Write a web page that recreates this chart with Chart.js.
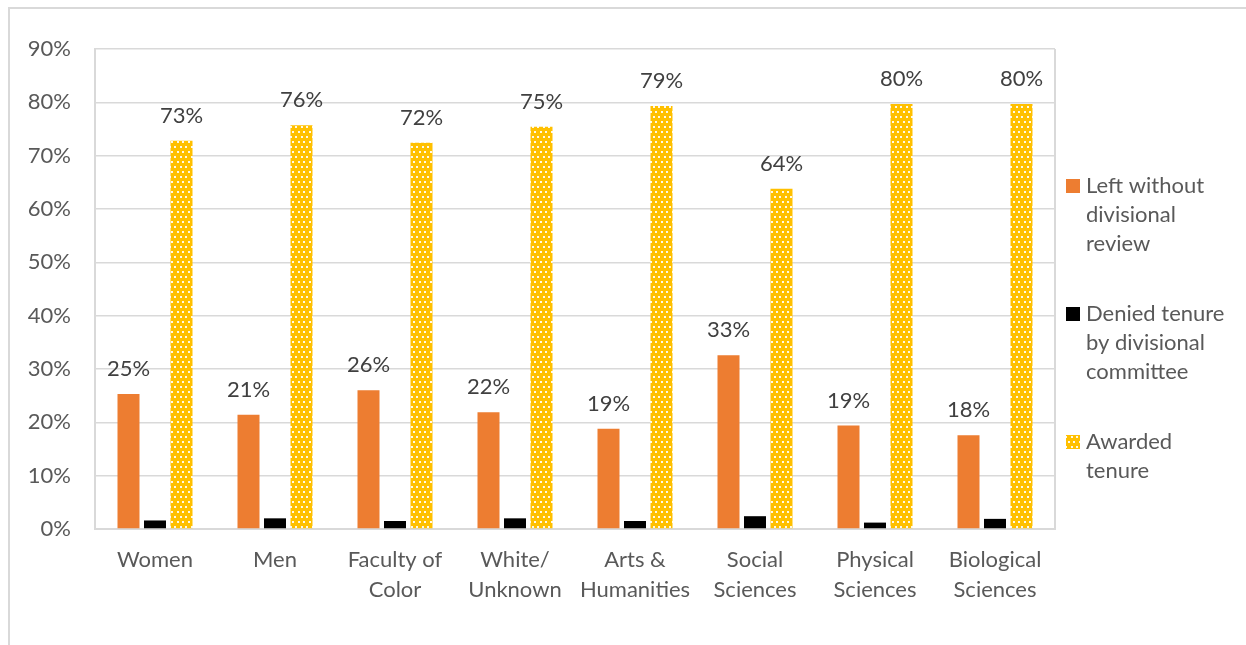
<!DOCTYPE html>
<html><head><meta charset="utf-8">
<script src="https://cdn.jsdelivr.net/npm/chart.js@4/dist/chart.umd.min.js"></script>
<style>html,body{margin:0;padding:0;background:#fff;overflow:hidden}canvas{display:block}</style>
</head><body>
<canvas id="c" width="1246" height="645"></canvas>
<script>
const categories = [['Women'],['Men'],['Faculty of','Color'],['White/','Unknown'],['Arts &','Humanities'],['Social','Sciences'],['Physical','Sciences'],['Biological','Sciences']];
const leftWithoutReview = [25.3, 21.4, 26.0, 21.9, 18.8, 32.6, 19.4, 17.6];
const deniedByCommittee = [1.6, 2.0, 1.5, 2.0, 1.5, 2.4, 1.2, 1.9];
const awardedTenure = [72.8, 75.7, 72.4, 75.4, 79.3, 63.8, 79.7, 79.7];
const seriesNames = ['Left without divisional review', 'Denied tenure by divisional committee', 'Awarded tenure'];
const legendLines = [['Left without','divisional','review'],['Denied tenure','by divisional','committee'],['Awarded','tenure']];
const yMin = 0, yMax = 90, yStep = 10;

const FONT = 'Lato';
const FS = 22;
const ORANGE = '#ED7D31', BLACK = '#000000', GOLD = '#FFC000';

function makePattern() {
  const t = document.createElement('canvas');
  t.width = 11; t.height = 10;
  const g = t.getContext('2d');
  g.fillStyle = GOLD; g.fillRect(0, 0, 11, 10);
  g.fillStyle = 'rgba(255,255,255,0.9)';
  [[1,1],[6,1],[4,6],[9,6]].forEach(([x,y]) => g.fillRect(x, y, 2, 2));
  return document.getElementById('c').getContext('2d').createPattern(t, 'repeat');
}
const goldPattern = makePattern();

const framePlugin = {
  id: 'frame',
  beforeDraw(chart) {
    const ctx = chart.ctx;
    ctx.save();
    ctx.strokeStyle = '#d9d9d9';
    ctx.lineWidth = 2;
    ctx.beginPath();
    ctx.moveTo(9, 645); ctx.lineTo(9, 8); ctx.lineTo(1246, 8);
    ctx.stroke();
    ctx.restore();
  },
  afterDraw(chart) {
    const ctx = chart.ctx, a = chart.chartArea;
    ctx.save();
    ctx.strokeStyle = '#d9d9d9';
    ctx.lineWidth = 2;
    ctx.beginPath();
    ctx.moveTo(a.right, a.top); ctx.lineTo(a.right, a.bottom);
    ctx.stroke();
    // legend
    const fills = [ORANGE, BLACK, goldPattern];
    ctx.font = FS + 'px ' + FONT;
    ctx.textBaseline = 'middle';
    ctx.textAlign = 'left';
    let y = 186;
    legendLines.forEach((lines, i) => {
      ctx.fillStyle = fills[i];
      ctx.fillRect(1066, y - 7, 14, 14);
      ctx.fillStyle = '#595959';
      lines.forEach((ln, k) => ctx.fillText(ln, 1086, y + k * 29));
      y += lines.length * 29 + 41;
    });
    ctx.restore();
  }
};

const labelPlugin = {
  id: 'barLabels',
  afterDatasetsDraw(chart) {
    const ctx = chart.ctx;
    ctx.save();
    ctx.font = FS + 'px ' + FONT;
    ctx.fillStyle = '#404040';
    ctx.textAlign = 'center';
    ctx.textBaseline = 'middle';
    [0, 2].forEach(di => {
      const meta = chart.getDatasetMeta(di);
      meta.data.forEach((bar, i) => {
        const v = chart.data.datasets[di].data[i];
        ctx.fillText(Math.round(v) + '%', bar.x, bar.y - 25);
      });
    });
    ctx.restore();
  }
};

new Chart(document.getElementById('c'), {
  type: 'bar',
  data: {
    labels: categories,
    datasets: [
      { label: seriesNames[0], data: leftWithoutReview, backgroundColor: ORANGE },
      { label: seriesNames[1], data: deniedByCommittee, backgroundColor: BLACK },
      { label: seriesNames[2], data: awardedTenure, backgroundColor: goldPattern }
    ]
  },
  options: {
    responsive: false,
    animation: false,
    devicePixelRatio: 1,
    categoryPercentage: 0.6625,
    barPercentage: 0.83,
    layout: { padding: { top: 49, right: 191, left: 0, bottom: 0 } },
    plugins: { legend: { display: false }, tooltip: { enabled: false } },
    scales: {
      x: {
        grid: { display: false, drawTicks: false },
        border: { display: true, color: '#d9d9d9', width: 2 },
        ticks: { font: { family: FONT, size: FS, lineHeight: 1.364 }, color: '#595959', padding: 16, maxRotation: 0, autoSkip: false },
        afterFit(s) { s.height = 116; }
      },
      y: {
        min: yMin, max: yMax,
        grid: { color: '#d9d9d9', lineWidth: 1.5, drawTicks: false },
        border: { display: true, color: '#d9d9d9', width: 2 },
        ticks: { stepSize: yStep, font: { family: FONT, size: FS }, color: '#595959', padding: 24, callback: v => v + '%' },
        afterFit(s) { s.width = 95; }
      }
    }
  },
  plugins: [framePlugin, labelPlugin]
});
</script>
</body></html>
